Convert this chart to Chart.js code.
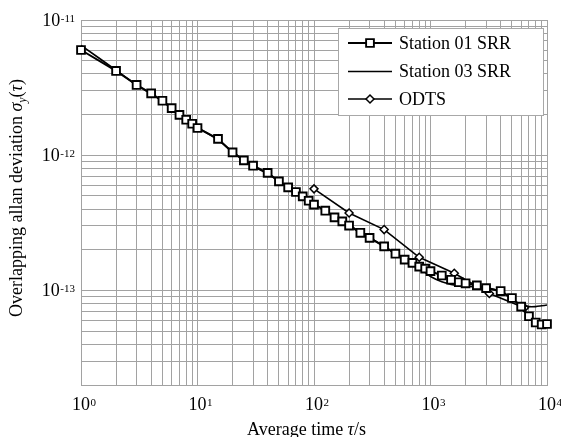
<!DOCTYPE html>
<html>
<head>
<meta charset="utf-8">
<script src="https://cdn.jsdelivr.net/npm/chart.js@4/dist/chart.umd.min.js"></script>
<style>
  html, body { margin: 0; padding: 0; background: #fff; }
  #wrap { width: 561px; height: 437px; }
</style>
</head>
<body>
<div id="wrap"><canvas id="adev" width="561" height="437"></canvas></div>
<script>
// Averaging times (s) and overlapping Allan deviations
const tauSRR = [1, 2, 3, 4, 5, 6, 7, 8, 9, 10, 15, 20, 25, 30, 40, 50, 60, 70, 80, 90,
  100, 125, 150, 175, 200, 250, 300, 400, 500, 600, 700, 800, 900, 1000,
  1250, 1500, 1750, 2000, 2500, 3000, 4000, 5000, 6000, 7000, 8000, 9000, 10000];
const station01 = [6.0e-12, 4.2e-12, 3.31e-12, 2.87e-12, 2.53e-12, 2.23e-12, 1.99e-12, 1.83e-12, 1.71e-12, 1.59e-12,
  1.32e-12, 1.05e-12, 9.16e-13, 8.37e-13, 7.40e-13, 6.41e-13, 5.79e-13, 5.35e-13, 4.96e-13, 4.61e-13,
  4.31e-13, 3.89e-13, 3.47e-13, 3.24e-13, 3.02e-13, 2.67e-13, 2.45e-13, 2.12e-13, 1.87e-13, 1.69e-13,
  1.60e-13, 1.50e-13, 1.45e-13, 1.39e-13, 1.29e-13, 1.20e-13, 1.15e-13, 1.13e-13, 1.09e-13, 1.04e-13,
  9.9e-14, 8.8e-14, 7.6e-14, 6.45e-14, 5.8e-14, 5.6e-14, 5.65e-14];
const station03 = [6.5e-12, 4.25e-12, 3.3e-12, 2.85e-12, 2.5e-12, 2.22e-12, 2.0e-12, 1.84e-12, 1.70e-12, 1.60e-12,
  1.30e-12, 1.06e-12, 9.2e-13, 8.3e-13, 7.3e-13, 6.45e-13, 5.85e-13, 5.4e-13, 5.0e-13, 4.68e-13,
  4.38e-13, 3.9e-13, 3.5e-13, 3.25e-13, 3.05e-13, 2.7e-13, 2.46e-13, 2.12e-13, 1.86e-13, 1.66e-13,
  1.55e-13, 1.45e-13, 1.36e-13, 1.27e-13, 1.16e-13, 1.11e-13, 1.09e-13, 1.08e-13, 1.06e-13, 1.05e-13,
  9.8e-14, 8.6e-14, 7.9e-14, 7.6e-14, 7.6e-14, 7.7e-14, 7.8e-14];
const tauODTS = [100, 200, 400, 800, 1600, 3200, 6400];
const odts = [5.64e-13, 3.74e-13, 2.82e-13, 1.76e-13, 1.34e-13, 9.5e-14, 7.44e-14];

// Decade tick labels (mantissa 10, exponent as superscript)
const xDecades = [1, 10, 100, 1000, 10000];
const xExponents = ['0', '1', '2', '3', '4'];
const yDecades = [1e-13, 1e-12, 1e-11];
const yExponents = ['-13', '-12', '-11'];
const xRange = [1, 10000];
const yRange = [2e-14, 1e-11];

const SERIF = '"Liberation Serif", "Times New Roman", serif';
const GRID = '#a2a2a2';

// grid lines at 1..9 x 10^n inside a range
function logGrid(lo, hi) {
  const out = [];
  for (let e = Math.floor(Math.log10(lo)); e <= Math.ceil(Math.log10(hi)); e++) {
    for (let m = 1; m <= 9; m++) {
      const v = parseFloat(m + 'e' + e);
      if (v >= lo * 0.999 && v <= hi * 1.001) out.push(v);
    }
  }
  return out;
}
const pairs = (xs, ys) => xs.map((x, i) => ({ x: x, y: ys[i] }));

// tick labels, axis titles and the legend box
const decor = {
  id: 'decor',
  afterDraw(chart) {
    const ctx = chart.ctx;
    const xs = chart.scales.x, ys = chart.scales.y;
    ctx.save();
    ctx.fillStyle = '#000';
    ctx.textBaseline = 'alphabetic';
    ctx.textAlign = 'left';
    const big = '18px ' + SERIF, small = '11px ' + SERIF;

    // x decade labels
    xDecades.forEach((v, i) => {
      const px = xs.getPixelForValue(v);
      ctx.font = big;
      const w = ctx.measureText('10').width;
      ctx.fillText('10', px - w / 2, 410);
      ctx.font = small;
      ctx.fillText(xExponents[i], px + w / 2 + 0.5, 405.5);
    });

    // y decade labels
    yDecades.forEach((v, i) => {
      const py = ys.getPixelForValue(v);
      ctx.font = small;
      const we = ctx.measureText(yExponents[i]).width;
      ctx.font = big;
      const w = ctx.measureText('10').width;
      const right = 75;
      const base = Math.max(py + 6, 23);
      ctx.fillText('10', right - we - w - 0.5, base);
      ctx.font = small;
      ctx.fillText(yExponents[i], right - we, base - 4.5);
    });

    // run of text pieces with individual fonts / offsets
    function run(parts, x, y) {
      let cx = x;
      parts.forEach(p => {
        ctx.font = p.f;
        ctx.fillText(p.t, cx, y + (p.dy || 0));
        cx += ctx.measureText(p.t).width;
      });
    }
    function runWidth(parts) {
      let w = 0;
      parts.forEach(p => { ctx.font = p.f; w += ctx.measureText(p.t).width; });
      return w;
    }
    const ital = 'italic 18px ' + SERIF, italSmall = 'italic 12px ' + SERIF;

    // x title
    run([{ t: 'Average time ', f: big }, { t: 'τ', f: ital }, { t: '/s', f: big }], 247, 435);

    // y title (rotated)
    const yParts = [
      { t: 'Overlapping allan deviation ', f: big },
      { t: 'σ', f: ital },
      { t: 'y', f: italSmall, dy: 4 },
      { t: '(', f: big },
      { t: 'τ', f: ital },
      { t: ')', f: big }
    ];
    const tw = runWidth(yParts);
    ctx.save();
    ctx.translate(22, 198);
    ctx.rotate(-Math.PI / 2);
    run(yParts, -tw / 2, 0);
    ctx.restore();

    // legend
    const box = { l: 338, t: 28, r: 543, b: 115 };
    ctx.fillStyle = '#fff';
    ctx.fillRect(box.l, box.t, box.r - box.l, box.b - box.t);
    ctx.strokeStyle = '#a8a8a8';
    ctx.lineWidth = 1;
    ctx.strokeRect(box.l + 0.5, box.t + 0.5, box.r - box.l, box.b - box.t);
    const rows = [43, 71.5, 99];
    chart.data.datasets.forEach((ds, i) => {
      const y = rows[i];
      ctx.strokeStyle = ds.borderColor;
      ctx.lineWidth = ds.borderWidth;
      ctx.beginPath();
      ctx.moveTo(348, y);
      ctx.lineTo(392, y);
      ctx.stroke();
      if (ds.pointRadius > 0) {
        ctx.fillStyle = ds.pointBackgroundColor;
        ctx.strokeStyle = ds.pointBorderColor;
        ctx.lineWidth = ds.pointBorderWidth;
        Chart.helpers.drawPoint(ctx, {
          pointStyle: ds.pointStyle,
          radius: ds.legendRadius,
          borderWidth: ds.pointBorderWidth
        }, 370, y);
      }
      ctx.fillStyle = '#000';
      ctx.font = big;
      ctx.textBaseline = 'middle';
      ctx.fillText(ds.label, 399, y + 1);
      ctx.textBaseline = 'alphabetic';
    });
    ctx.restore();
  }
};

new Chart(document.getElementById('adev'), {
  type: 'line',
  data: {
    datasets: [
      {
        label: 'Station 01 SRR',
        data: pairs(tauSRR, station01),
        borderColor: '#000', borderWidth: 2,
        pointStyle: 'rect', pointRadius: 5.5, legendRadius: 5.5,
        pointBorderWidth: 1.9, pointBorderColor: '#000', pointBackgroundColor: '#fff',
        tension: 0, clip: false
      },
      {
        label: 'Station 03 SRR',
        data: pairs(tauSRR, station03),
        borderColor: '#000', borderWidth: 1.6,
        pointRadius: 0, legendRadius: 0,
        tension: 0.3, clip: false
      },
      {
        label: 'ODTS',
        data: pairs(tauODTS, odts),
        borderColor: '#000', borderWidth: 1.6,
        pointStyle: 'rectRot', pointRadius: 4, legendRadius: 4,
        pointBorderWidth: 1.5, pointBorderColor: '#000', pointBackgroundColor: '#fff',
        tension: 0, clip: false
      }
    ]
  },
  options: {
    responsive: false,
    animation: false,
    devicePixelRatio: 1,
    layout: { padding: { left: 81, top: 20, right: 14, bottom: 52 } },
    plugins: { legend: { display: false }, tooltip: { enabled: false } },
    scales: {
      x: {
        type: 'logarithmic', min: xRange[0], max: xRange[1],
        afterBuildTicks: s => { s.ticks = logGrid(xRange[0], xRange[1]).map(v => ({ value: v })); },
        ticks: { display: false },
        grid: { color: GRID, lineWidth: 1, drawTicks: false },
        border: { color: GRID, width: 1 }
      },
      y: {
        type: 'logarithmic', min: yRange[0], max: yRange[1],
        afterBuildTicks: s => { s.ticks = logGrid(yRange[0], yRange[1]).map(v => ({ value: v })); },
        ticks: { display: false },
        grid: { color: GRID, lineWidth: 1, drawTicks: false },
        border: { color: GRID, width: 1 }
      }
    }
  },
  plugins: [decor]
});
</script>
</body>
</html>
